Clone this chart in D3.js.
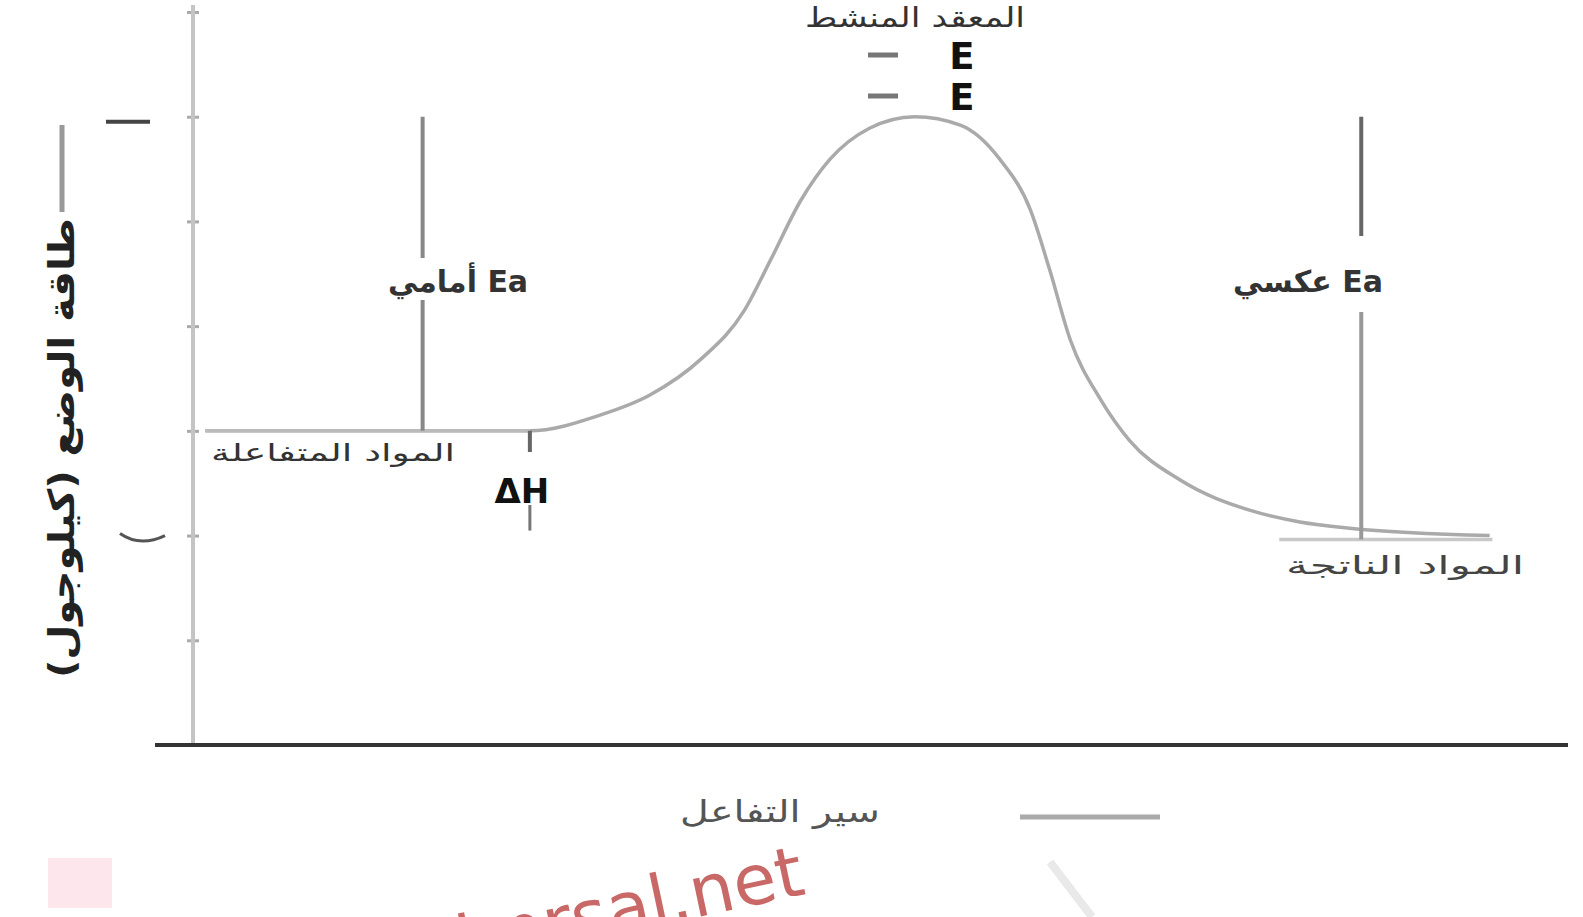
<!DOCTYPE html>
<html lang="ar">
<head>
<meta charset="utf-8">
<script src="https://cdn.jsdelivr.net/npm/d3@7"></script>
<style>
  html, body { margin: 0; padding: 0; background: #fff; }
  svg { display: block; }
  text { font-family: "DejaVu Sans", sans-serif; }
</style>
</head>
<body>
<svg id="chart" width="1583" height="917"></svg>
<script>
// Reaction coordinate (0–100) and potential energy along the path
const progress = [0.9, 24.5, 29.6, 33.2, 36.9, 40.1, 42.0, 44.2, 46.3, 49.2, 52.5, 55.8, 58.7, 60.9, 62.3, 63.8, 66.0, 68.1, 71.8, 76.9, 80.5, 84.1, 94.3];
const energy   = [3.0, 3.0, 3.15, 3.34, 3.68, 4.15, 4.63, 5.2, 5.59, 5.89, 6.0, 5.92, 5.59, 5.11, 4.54, 3.87, 3.3, 2.91, 2.53, 2.24, 2.13, 2.07, 2.0];

// Energy levels of the three states
const levelNames  = ["reactants", "complex", "products"];
const levelValues = [3.0, 6.0, 2.0];
const levelText   = ["المواد المتفاعلة", "المعقد المنشط", "المواد الناتجة"];

// Y-axis tick values (unlabelled)
const yTicks = [1, 2, 3, 4, 5, 6, 7];

const axisTitleY = "طاقة الوضع (كيلوجول)";
const axisTitleX = "سير التفاعل";
const eaForward  = "Ea أمامي";
const eaReverse  = "Ea عكسي";
const deltaH     = "ΔH";

const svg = d3.select("#chart");

const x = d3.scaleLinear().domain([0, 100]).range([193, 1568]);
const y = d3.scaleLinear().domain([0, 7]).range([745, 12]);

const lvl = name => levelValues[levelNames.indexOf(name)];

// y axis
const yAxis = d3.axisLeft(y).tickValues(yTicks).tickSize(12).tickFormat("");
const gy = svg.append("g").attr("transform", `translate(${x(0)},0)`).call(yAxis);
gy.select(".domain").remove();
gy.selectAll(".tick line").attr("x1", -6).attr("x2", 6).attr("stroke", "#aaa").attr("stroke-width", 3);
gy.append("line").attr("x1", 0).attr("x2", 0).attr("y1", 5).attr("y2", y(0))
  .attr("stroke", "#c4c4c4").attr("stroke-width", 4);

// x axis
svg.append("line").attr("x1", 155).attr("x2", 1568).attr("y1", y(0)).attr("y2", y(0))
  .attr("stroke", "#333").attr("stroke-width", 4);

// small marks beside the axis
svg.append("line").attr("x1", 106).attr("x2", 150).attr("y1", y(6) + 5).attr("y2", y(6) + 5)
  .attr("stroke", "#444").attr("stroke-width", 4);
svg.append("path")
  .attr("d", `M120,${y(2) - 2} Q140,${y(2) + 12} 165,${y(2)}`)
  .attr("fill", "none").attr("stroke", "#555").attr("stroke-width", 3);

// energy profile
const line = d3.line().x((d, i) => x(progress[i])).y(d => y(d)).curve(d3.curveMonotoneX);
svg.append("path").datum(energy).attr("d", line)
  .attr("fill", "none").attr("stroke", "#aaa").attr("stroke-width", 3.5);

// reactant and product levels
svg.append("line").attr("x1", x(0.9)).attr("x2", x(24.5)).attr("y1", y(lvl("reactants"))).attr("y2", y(lvl("reactants")))
  .attr("stroke", "#bbb").attr("stroke-width", 3.5);
svg.append("line").attr("x1", x(79)).attr("x2", x(94.5)).attr("y1", y(lvl("products")) + 4).attr("y2", y(lvl("products")) + 4)
  .attr("stroke", "#c8c8c8").attr("stroke-width", 3.5);

// forward activation energy
const xf = x(16.7);
svg.append("line").attr("x1", xf).attr("x2", xf).attr("y1", y(lvl("complex"))).attr("y2", 258)
  .attr("stroke", "#888").attr("stroke-width", 4);
svg.append("line").attr("x1", xf).attr("x2", xf).attr("y1", 300).attr("y2", y(lvl("reactants")))
  .attr("stroke", "#888").attr("stroke-width", 4);
svg.append("text").attr("x", 458).attr("y", 292).attr("text-anchor", "middle")
  .attr("direction", "rtl").attr("font-size", 30).attr("font-weight", "bold").attr("fill", "#333")
  .text(eaForward);

// reverse activation energy
const xr = x(85) - 0.5;
svg.append("line").attr("x1", xr).attr("x2", xr).attr("y1", y(lvl("complex"))).attr("y2", 236)
  .attr("stroke", "#666").attr("stroke-width", 4);
svg.append("line").attr("x1", xr).attr("x2", xr).attr("y1", 312).attr("y2", y(lvl("products")) + 4)
  .attr("stroke", "#999").attr("stroke-width", 4);
svg.append("text").attr("x", 1308).attr("y", 292).attr("text-anchor", "middle")
  .attr("direction", "rtl").attr("font-size", 30).attr("font-weight", "bold").attr("fill", "#333")
  .text(eaReverse);

// enthalpy change
const xh = x(24.5);
svg.append("line").attr("x1", xh).attr("x2", xh).attr("y1", y(lvl("reactants"))).attr("y2", 452)
  .attr("stroke", "#666").attr("stroke-width", 4);
svg.append("line").attr("x1", xh).attr("x2", xh).attr("y1", 505).attr("y2", y(lvl("products")) - 5)
  .attr("stroke", "#777").attr("stroke-width", 3);
svg.append("text").attr("x", xh - 8).attr("y", 503).attr("text-anchor", "middle")
  .attr("font-size", 34).attr("font-weight", "bold").attr("fill", "#111")
  .text(deltaH);

// state labels
const stateLabel = (tx, ty, size, len, col, str) =>
  svg.append("text").attr("x", tx).attr("y", ty).attr("text-anchor", "middle")
    .attr("direction", "rtl").attr("font-size", size).attr("fill", col)
    .attr("textLength", len).attr("lengthAdjust", "spacingAndGlyphs").text(str);
stateLabel(333, 461, 24, 244, "#333", levelText[0]);
stateLabel(915, 27, 27, 220, "#333", levelText[1]);
stateLabel(1405, 574, 25, 238, "#444", levelText[2]);

// structure sketch under the complex label
[55, 96].forEach(cy => {
  svg.append("line").attr("x1", 868).attr("x2", 898).attr("y1", cy).attr("y2", cy)
    .attr("stroke", "#777").attr("stroke-width", 5);
  svg.append("text").attr("x", 962).attr("y", cy + 14).attr("text-anchor", "middle")
    .attr("font-size", 37).attr("font-weight", "bold").attr("fill", "#111").text("E");
});

// axis titles
svg.append("line").attr("x1", 62).attr("x2", 62).attr("y1", 125).attr("y2", 212)
  .attr("stroke", "#999").attr("stroke-width", 5);
svg.append("text").attr("transform", "translate(74,448) rotate(-90)").attr("text-anchor", "middle")
  .attr("direction", "rtl").attr("font-size", 36).attr("font-weight", "bold").attr("fill", "#222")
  .attr("textLength", 460).attr("lengthAdjust", "spacingAndGlyphs")
  .text(axisTitleY);

svg.append("text").attr("x", 780).attr("y", 822).attr("text-anchor", "middle")
  .attr("direction", "rtl").attr("font-size", 30).attr("fill", "#555")
  .attr("textLength", 200).attr("lengthAdjust", "spacingAndGlyphs").text(axisTitleX);
svg.append("line").attr("x1", 1020).attr("x2", 1160).attr("y1", 817).attr("y2", 817)
  .attr("stroke", "#aaa").attr("stroke-width", 5);

// site mark at the bottom edge
svg.append("rect").attr("x", 48).attr("y", 858).attr("width", 64).attr("height", 50).attr("fill", "#fde6ec");
svg.append("text").attr("transform", "translate(237,1015) rotate(-12)")
  .attr("font-size", 70).attr("fill", "#c0504d").attr("opacity", 0.85).text("www.almrsal.net");
svg.append("line").attr("x1", 1050).attr("y1", 862).attr("x2", 1092).attr("y2", 917)
  .attr("stroke", "#e9e9e9").attr("stroke-width", 8);
</script>
</body>
</html>
